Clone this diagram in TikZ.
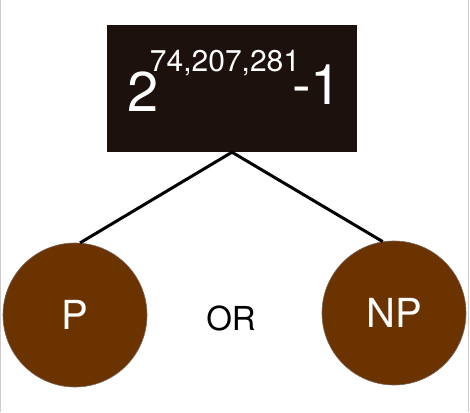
\documentclass[tikz,border=0pt]{standalone}
\usepackage{fontspec}
\setmainfont{TeX Gyre Heros}
\usepackage{tikz}
\usetikzlibrary{calc}
\definecolor{boxdark}{RGB}{28,17,12}
\definecolor{nutbrown}{RGB}{107,51,0}
\definecolor{rimgray}{RGB}{120,100,90}
\definecolor{edgegray}{RGB}{205,205,205}

\begin{document}
\begin{tikzpicture}[
  x=1pt,y=1pt,
  prime/.style={rectangle,fill=boxdark,minimum width=250pt,minimum height=127pt,inner sep=0pt},
  klass/.style={circle,fill=nutbrown,draw=rimgray,line width=0.6pt,minimum size=144pt,inner sep=0pt,text=white,font=\fontsize{40}{40}\selectfont},
  digit/.style={anchor=base,text=white,inner sep=0pt},
  link/.style={line width=3pt,draw=black}
]
  \useasboundingbox (0,0) rectangle (470,412);
  \draw[edgegray,line width=1pt] (0.5,0) -- (0.5,412);
  \draw[edgegray,line width=1pt] (468,0) -- (468,412);

  \node[prime] (mersenne) at (232,323.5) {};
  \node[digit,font=\fontsize{56}{56}\selectfont] (base) at (143,300) {2};
  \node[digit,font=\fontsize{30}{30}\selectfont] (expo) at (225,340) {74,207,281};
  \node[digit,font=\fontsize{56}{56}\selectfont] (minus) at (317,307) {-1};

  \node[klass] (p) at (75,97) {P};
  \node[klass] (np) at (394,99) {NP};
  \node[font=\fontsize{33}{33}\selectfont] (or) at (231,94) {OR};

  \draw[link] (mersenne.south) -- (p.86);
  \draw[link] (mersenne.south) -- (np.99);
\end{tikzpicture}
\end{document}
